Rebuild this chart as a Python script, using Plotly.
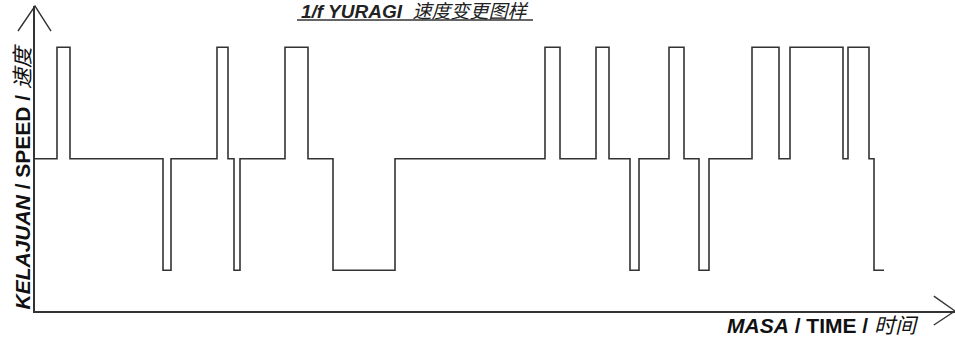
import plotly.graph_objects as go

# step times (arbitrary time units) and speed level after each step
times = [0, 2.2, 3.5, 12.8, 13.6, 18.2, 19.3, 19.9, 20.5, 25.0, 27.3, 29.8, 36.0,
         51.0, 52.5, 56.1, 57.4, 59.5, 60.4, 63.4, 64.9, 66.4, 67.4, 71.7, 74.4,
         75.5, 80.8, 81.3, 83.4, 83.9, 84.9]
speeds = [2, 3, 2, 1, 2, 3, 2, 1, 2, 3, 2, 1, 2,
          3, 2, 3, 2, 1, 2, 3, 2, 1, 2, 3, 2,
          3, 2, 3, 2, 1, 1]

title_text = "<b><i>1/f YURAGI</i></b>  <i>速度变更图样</i>"
x_label = "<b><i>MASA</i> / TIME /</b> <i>时间</i>"
y_label = "<b><i>KELAJUAN</i> / SPEED /</b> <i>速度</i>"

FONT = "Liberation Sans, Arial, Noto Sans CJK SC, sans-serif"
INK = "#333333"

fig = go.Figure()
fig.add_trace(go.Scatter(x=times, y=speeds, mode="lines", line_shape="hv",
                         line=dict(color=INK, width=1.6), hoverinfo="skip"))

# axis arrow heads (open chevrons)
fig.add_shape(type="path", xref="paper", yref="paper",
              path="M -0.0185,0.918 L 0,1 L 0.0174,0.918",
              line=dict(color=INK, width=1.4))
fig.add_shape(type="path", xref="paper", yref="paper",
              path="M 0.977,0.049 L 1.0,0 L 0.977,-0.046",
              line=dict(color=INK, width=1.4))
# underline under the title
fig.add_shape(type="line", xref="paper", yref="paper",
              x0=0.2848, x1=0.5413, y0=0.9541, y1=0.9541,
              line=dict(color=INK, width=1.5))

fig.add_annotation(text=title_text, xref="paper", yref="paper", x=0.413, y=0.9836,
                   xanchor="center", yanchor="middle", showarrow=False,
                   font=dict(family=FONT, size=19, color="#222"))
fig.add_annotation(text=x_label, xref="paper", yref="paper", x=0.856, y=-0.049,
                   xanchor="center", yanchor="middle", showarrow=False,
                   font=dict(family=FONT, size=21, color="#111"))
fig.add_annotation(text=y_label, xref="paper", yref="paper", x=-0.0141, y=0.441,
                   xanchor="center", yanchor="middle", textangle=-90, showarrow=False,
                   font=dict(family=FONT, size=21, color="#111"))

fig.update_xaxes(range=[0, 92], showline=True, linecolor=INK, linewidth=1.5,
                 showgrid=False, zeroline=False, showticklabels=False, ticks="")
fig.update_yaxes(range=[0.635, 3.37], showline=True, linecolor=INK, linewidth=1.5,
                 showgrid=False, zeroline=False, showticklabels=False, ticks="")
fig.update_layout(width=955, height=338, margin=dict(l=35, r=0, t=6, b=27),
                  plot_bgcolor="white", paper_bgcolor="white", showlegend=False)

# drop the browser's default page margin so the chart fills the window
fig.write_html("out.html", config={"displayModeBar": False},
               post_script="document.body.style.margin='0';")
